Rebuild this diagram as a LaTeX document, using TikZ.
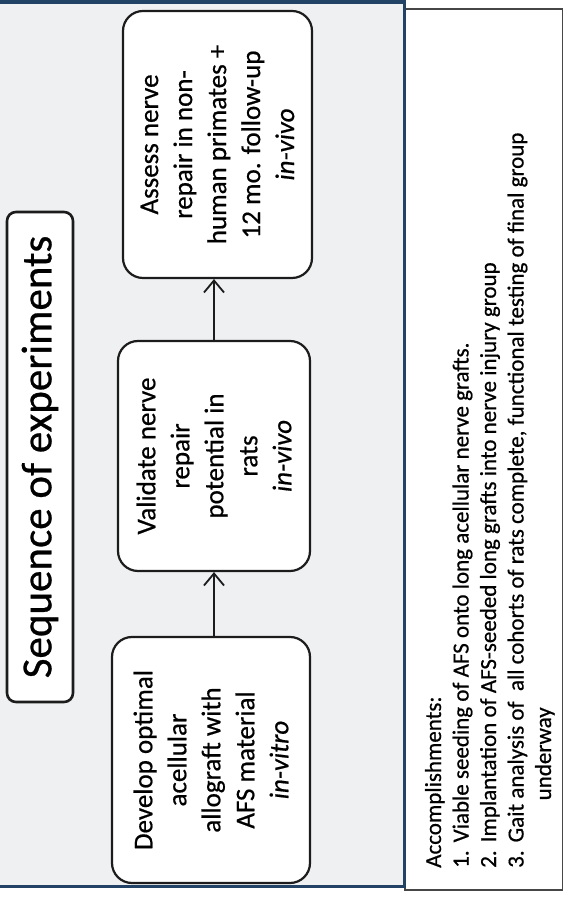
\documentclass[tikz,border=0pt]{standalone}
\usepackage{fontspec}
\setmainfont{Carlito}[FakeBold=0.6]
\usetikzlibrary{arrows.meta}
\definecolor{panelfill}{RGB}{238,240,241}
\definecolor{navy}{RGB}{34,66,102}
\definecolor{boxline}{RGB}{28,28,28}
\begin{document}
\begin{tikzpicture}[x=1pt,y=1pt,
  stepbox/.style={draw=boxline, line width=2.2pt, fill=white, rounded corners=20pt,
    rotate=90, align=center, inner sep=0pt, font=\fontsize{27}{34}\selectfont},
  flow/.style={draw=boxline, line width=1.8pt, -{Straight Barb[length=12pt,width=20pt]}},
  listtext/.style={rotate=90, anchor=base west, inner sep=0pt, font=\fontsize{23}{27.5}\selectfont}]
\useasboundingbox (0,0) rectangle (564,897);
% right panel
\path[draw=gray!55!black, line width=1.5pt, fill=white] (405,7) rectangle (562.5,888);
% left panel
\fill[panelfill] (0,10) rectangle (404,897);
\draw[navy, line width=4pt] (0,895) -- (405,895);
\draw[navy, line width=3.5pt] (0,10.5) -- (405,10.5);
\draw[navy, line width=3pt] (404,897) -- (404,9);
% title
\node[draw=boxline, line width=2.6pt, fill=white, rounded corners=9pt, rotate=90,
  minimum width=490pt, minimum height=66pt, inner sep=0pt,
  font=\fontsize{43}{50}\selectfont] (title) at (40,440) {Sequence of experiments};
% steps
\node[stepbox, minimum width=246pt, minimum height=198pt] (b1) at (211,137)
  {Develop optimal\\acellular\\allograft with\\AFS material\\\textit{in-vitro}};
\node[stepbox, minimum width=230pt, minimum height=192pt] (b2) at (214,441)
  {Validate nerve\\repair\\potential in\\rats\\\textit{in-vivo}};
\node[stepbox, minimum width=267pt, minimum height=189pt] (b3) at (217.5,752.5)
  {Assess nerve\\repair in non-\\human primates +\\12 mo. follow-up\\\textit{in-vivo}};
\draw[flow] (b2.west |- b1.east) -- (b2.west);
\draw[flow] (b2.east) -- (b2.east |- b3.west);
% accomplishments
\node[listtext] (acc) at (441,29)
  {\begin{tabular}[t]{@{}l@{\hspace{8pt}}l@{}}
   \multicolumn{2}{@{}l}{Accomplishments:}\\
   1.&Viable seeding of AFS onto long acellular nerve grafts.\\
   2.&Implantation of AFS-seeded long grafts into nerve injury group\\
   3.&Gait analysis of\ \ all cohorts of rats complete, functional testing of final group\\
   &\hspace*{42pt}underway
   \end{tabular}};
\end{tikzpicture}
\end{document}
